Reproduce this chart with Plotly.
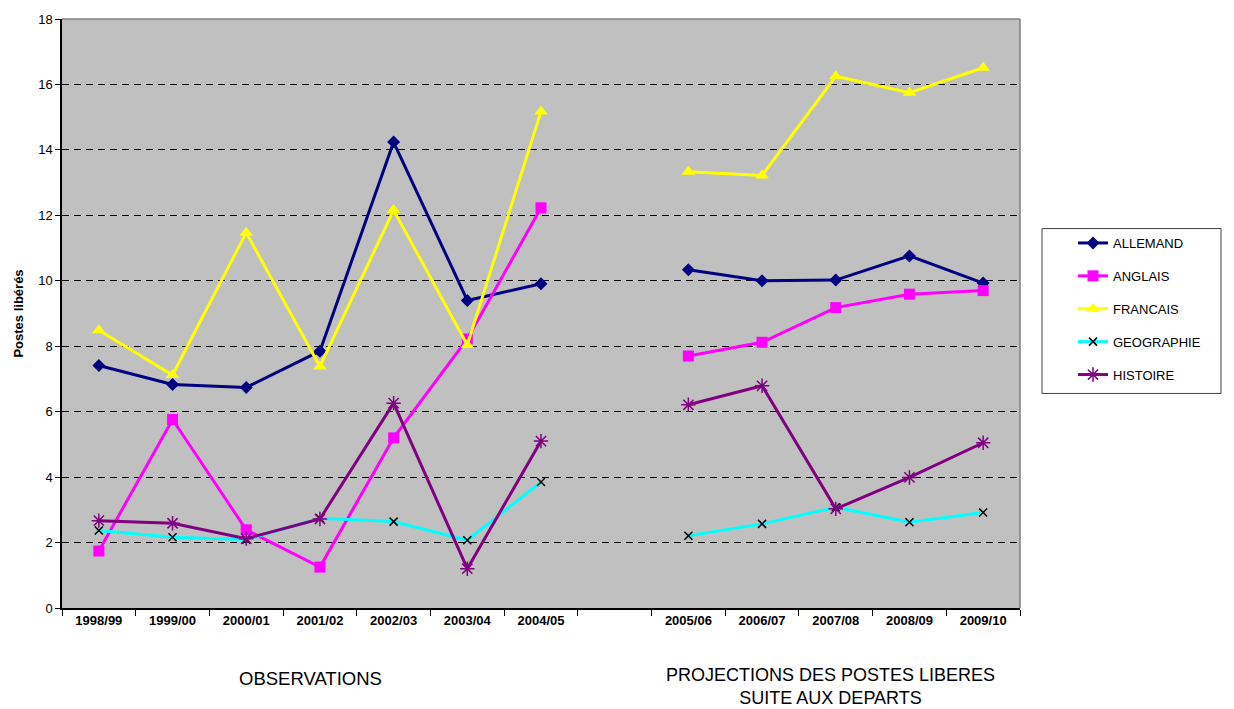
import plotly.graph_objects as go

# School years; the blank slot separates observations from projections
periods = ["1998/99", "1999/00", "2000/01", "2001/02", "2002/03", "2003/04", "2004/05", " ",
           "2005/06", "2006/07", "2007/08", "2008/09", "2009/10"]

allemand = [7.41, 6.83, 6.74, 7.85, 14.24, 9.40, 9.91, None, 10.34, 10.00, 10.02, 10.76, 9.93]
anglais = [1.74, 5.76, 2.39, 1.25, 5.20, 8.22, 12.23, None, 7.70, 8.12, 9.18, 9.59, 9.70]
francais = [8.49, 7.12, 11.47, 7.38, 12.16, 8.04, 15.17, None, 13.33, 13.22, 16.25, 15.75, 16.51]
geographie = [2.37, 2.16, 2.09, 2.74, 2.64, 2.07, 3.85, None, 2.21, 2.57, 3.08, 2.62, 2.92]
histoire = [2.67, 2.59, 2.12, 2.72, 6.26, 1.20, 5.10, None, 6.21, 6.79, 3.03, 3.99, 5.05]

y_ticks = [0, 2, 4, 6, 8, 10, 12, 14, 16, 18]

FONT = "Arial, Liberation Sans, sans-serif"

series = [
    ("ALLEMAND", allemand, "#000080", dict(symbol="diamond", size=10, color="#000080")),
    ("ANGLAIS", anglais, "#FF00FF", dict(symbol="square", size=11, color="#FF00FF")),
    ("FRANCAIS", francais, "#FFFF00", dict(symbol="triangle-up", size=12, color="#FFFF00")),
    ("GEOGRAPHIE", geographie, "#00FFFF",
     dict(symbol="x-thin-open", size=8, color="#000000", line=dict(color="#000000", width=1.5))),
    ("HISTOIRE", histoire, "#800080",
     dict(symbol="asterisk-open", size=12, color="#800080", line=dict(color="#800080", width=1.5))),
]

fig = go.Figure()
for i, (name, vals, col, mk) in enumerate(series):
    fig.add_trace(go.Scatter(
        x=periods, y=vals, name=name, mode="lines+markers",
        line=dict(color=col, width=3), marker=mk,
        connectgaps=False, legendgroup=f"g{i}",
    ))

fig.update_layout(
    width=1234, height=709,
    margin=dict(l=62, r=214, t=15, b=101),
    paper_bgcolor="white",
    plot_bgcolor="#C0C0C0",
    font=dict(family=FONT, color="black"),
    showlegend=True,
    legend=dict(
        xref="container", yref="container",
        x=1073 / 1234, y=1 - 228 / 709, xanchor="left", yanchor="top",
        bgcolor="rgba(0,0,0,0)", borderwidth=0,
        font=dict(size=13, family=FONT, color="black"),
        tracegroupgap=13, itemwidth=30,
    ),
    xaxis=dict(
        type="category", categoryorder="array", categoryarray=periods,
        range=[-0.5, 12.5], tickson="boundaries",
        ticks="outside", ticklen=6, tickcolor="black", tickwidth=1,
        showline=True, linecolor="black", linewidth=1.5,
        showgrid=False, zeroline=False,
        tickfont=dict(size=13, family=FONT, weight="bold"),
        fixedrange=True,
    ),
    yaxis=dict(
        range=[0, 18], tickvals=y_ticks,
        ticks="outside", ticklen=5, tickcolor="black",
        showline=True, linecolor="black", linewidth=1.5,
        showgrid=True, gridcolor="black", gridwidth=1, griddash="7px,5px",
        zeroline=False,
        tickfont=dict(size=13, family=FONT),
        title=dict(text="<b>Postes libérés</b>", font=dict(size=13, family=FONT), standoff=12),
        fixedrange=True,
    ),
    shapes=[
        # top and right edges of the plot area
        dict(type="line", xref="paper", yref="paper", x0=0, x1=1, y0=1, y1=1,
             line=dict(color="#808080", width=1.5), layer="above"),
        dict(type="line", xref="paper", yref="paper", x0=1, x1=1, y0=0, y1=1,
             line=dict(color="#808080", width=1.5), layer="above"),
        # legend frame
        dict(type="rect", xref="paper", yref="paper",
             x0=(1042 - 62) / 958, x1=(1221 - 62) / 958,
             y0=(608 - 392) / 593, y1=(608 - 226) / 593,
             line=dict(color="#404040", width=1), fillcolor="white", layer="below"),
    ],
    annotations=[
        dict(text="OBSERVATIONS", xref="paper", yref="paper",
             x=(310 - 62) / 958, y=(608 - 679) / 593, showarrow=False,
             font=dict(size=18.5, family=FONT), xanchor="center", yanchor="middle"),
        dict(text="PROJECTIONS DES POSTES LIBERES<br>SUITE AUX DEPARTS", xref="paper", yref="paper",
             x=(830 - 62) / 958, y=(608 - 687) / 593, showarrow=False,
             font=dict(size=18, family=FONT), xanchor="center", yanchor="middle"),
    ],
)

fig.write_html("out.html")
